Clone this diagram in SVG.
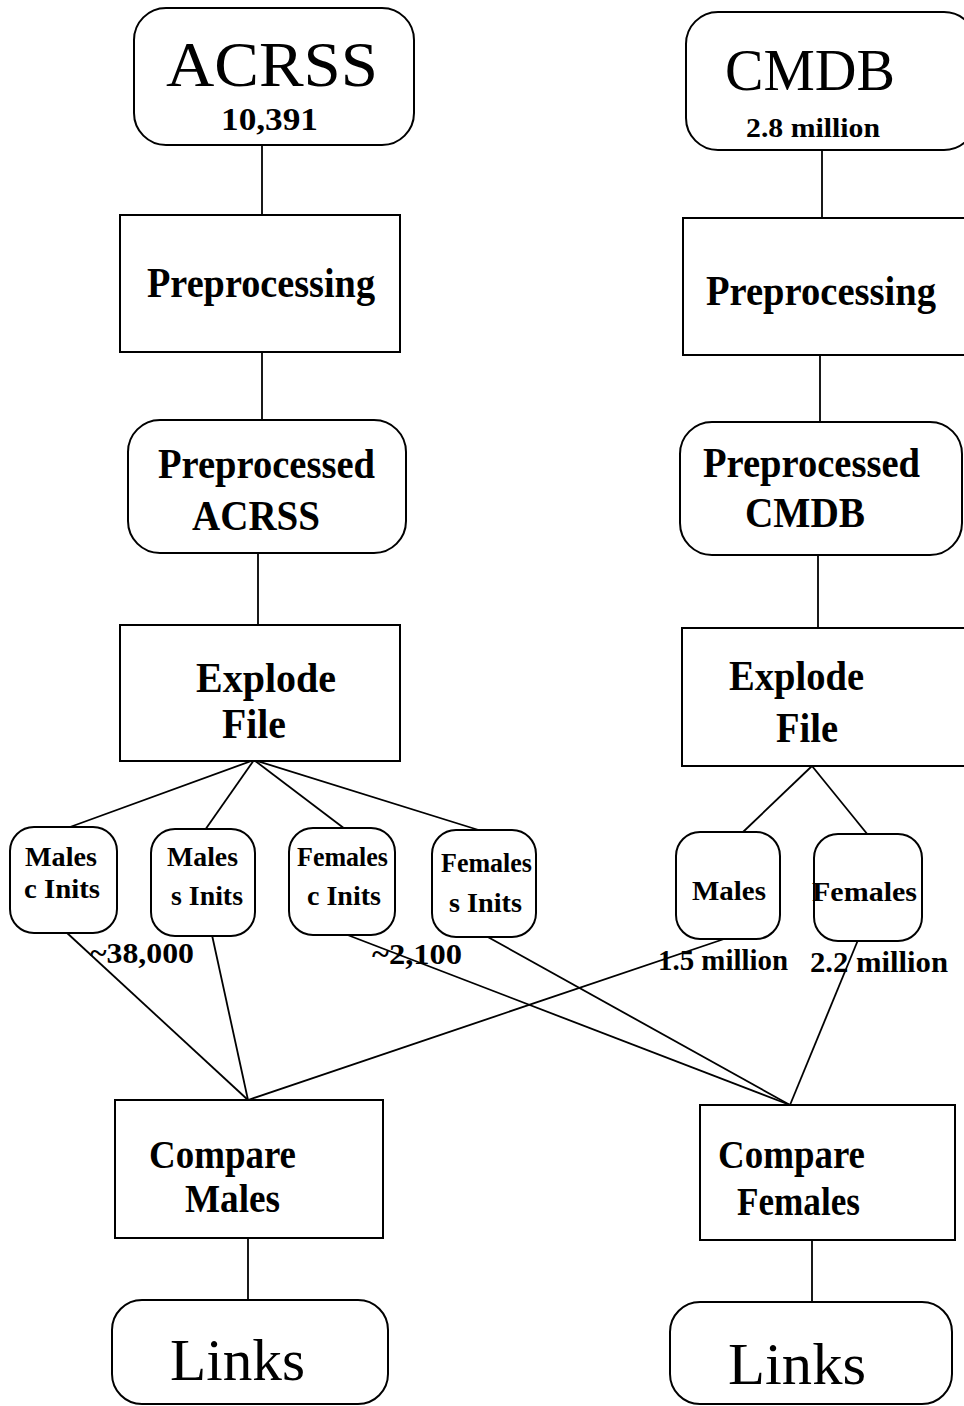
<svg xmlns="http://www.w3.org/2000/svg" width="964" height="1406" viewBox="0 0 964 1406">
<style>
.n{fill:#fff;stroke:#000;stroke-width:2}
.c line{stroke:#000;stroke-width:1.8}
text{font-family:"Liberation Serif","Times New Roman",serif;fill:#000}
.b{font-weight:bold}
</style>
<rect width="964" height="1406" fill="#fff"/>
<g class="c" id="connectors">
<line x1="262" y1="145" x2="262" y2="215"/>
<line x1="262" y1="352" x2="262" y2="420"/>
<line x1="258" y1="553" x2="258" y2="625"/>
<line x1="254" y1="760" x2="70" y2="827"/>
<line x1="254" y1="760" x2="205" y2="830"/>
<line x1="254" y1="760" x2="345" y2="829"/>
<line x1="254" y1="760" x2="485" y2="832"/>
<line x1="822" y1="150" x2="822" y2="218"/>
<line x1="820" y1="355" x2="820" y2="422"/>
<line x1="818" y1="555" x2="818" y2="628"/>
<line x1="812" y1="766" x2="743" y2="832"/>
<line x1="812" y1="766" x2="868" y2="835"/>
<line x1="66" y1="932" x2="248" y2="1100"/>
<line x1="212" y1="935" x2="248" y2="1100"/>
<line x1="730" y1="937" x2="248" y2="1100"/>
<line x1="345" y1="934" x2="790" y2="1105"/>
<line x1="486" y1="936" x2="790" y2="1105"/>
<line x1="858" y1="940" x2="790" y2="1105"/>
<line x1="248" y1="1238" x2="248" y2="1300"/>
<line x1="812" y1="1240" x2="812" y2="1302"/>
</g>
<g id="acrss"><rect class="n" x="134" y="8" width="280" height="137" rx="32"/>
<text x="166" y="86" font-size="64" textLength="212" lengthAdjust="spacingAndGlyphs">ACRSS</text>
<text class="b" x="221" y="130" font-size="32" textLength="97" lengthAdjust="spacingAndGlyphs">10,391</text></g>
<g id="prep1"><rect class="n" x="120" y="215" width="280" height="137"/>
<text class="b" x="147" y="297" font-size="42" textLength="228" lengthAdjust="spacingAndGlyphs">Preprocessing</text></g>
<g id="preped1"><rect class="n" x="128" y="420" width="278" height="133" rx="32"/>
<text class="b" x="158" y="478" font-size="42" textLength="217" lengthAdjust="spacingAndGlyphs">Preprocessed</text>
<text class="b" x="192" y="530" font-size="42" textLength="128" lengthAdjust="spacingAndGlyphs">ACRSS</text></g>
<g id="explode1"><rect class="n" x="120" y="625" width="280" height="136"/>
<text class="b" x="196" y="692" font-size="42" textLength="140" lengthAdjust="spacingAndGlyphs">Explode</text>
<text class="b" x="222" y="738" font-size="42" textLength="64" lengthAdjust="spacingAndGlyphs">File</text></g>
<g id="mci"><rect class="n" x="10" y="827" width="107" height="106" rx="24"/>
<text class="b" x="25" y="866" font-size="28" textLength="72" lengthAdjust="spacingAndGlyphs">Males</text>
<text class="b" x="24" y="898" font-size="28" textLength="76" lengthAdjust="spacingAndGlyphs">c Inits</text></g>
<g id="msi"><rect class="n" x="151" y="829" width="104" height="107" rx="24"/>
<text class="b" x="167" y="866" font-size="28" textLength="71" lengthAdjust="spacingAndGlyphs">Males</text>
<text class="b" x="171" y="905" font-size="28" textLength="72" lengthAdjust="spacingAndGlyphs">s Inits</text></g>
<g id="fci"><rect class="n" x="289" y="828" width="106" height="107" rx="24"/>
<text class="b" x="297" y="866" font-size="28" textLength="91" lengthAdjust="spacingAndGlyphs">Females</text>
<text class="b" x="307" y="905" font-size="28" textLength="74" lengthAdjust="spacingAndGlyphs">c Inits</text></g>
<g id="fsi"><rect class="n" x="432" y="830" width="104" height="107" rx="24"/>
<text class="b" x="441" y="872" font-size="28" textLength="91" lengthAdjust="spacingAndGlyphs">Females</text>
<text class="b" x="449" y="912" font-size="28" textLength="73" lengthAdjust="spacingAndGlyphs">s Inits</text></g>
<text class="b" x="90" y="963" font-size="30" textLength="104" lengthAdjust="spacingAndGlyphs">~38,000</text>
<text class="b" x="372" y="964" font-size="30" textLength="90" lengthAdjust="spacingAndGlyphs">~2,100</text>
<g id="cmdb"><rect class="n" x="686" y="12" width="290" height="138" rx="32"/>
<text x="725" y="90" font-size="60" textLength="170" lengthAdjust="spacingAndGlyphs">CMDB</text>
<text class="b" x="746" y="137" font-size="28" textLength="134" lengthAdjust="spacingAndGlyphs">2.8 million</text></g>
<g id="prep2"><rect class="n" x="683" y="218" width="290" height="137"/>
<text class="b" x="706" y="305" font-size="42" textLength="230" lengthAdjust="spacingAndGlyphs">Preprocessing</text></g>
<g id="preped2"><rect class="n" x="680" y="422" width="282" height="133" rx="32"/>
<text class="b" x="703" y="477" font-size="42" textLength="217" lengthAdjust="spacingAndGlyphs">Preprocessed</text>
<text class="b" x="745" y="527" font-size="42" textLength="120" lengthAdjust="spacingAndGlyphs">CMDB</text></g>
<g id="explode2"><rect class="n" x="682" y="628" width="290" height="138"/>
<text class="b" x="729" y="690" font-size="42" textLength="135" lengthAdjust="spacingAndGlyphs">Explode</text>
<text class="b" x="776" y="742" font-size="42" textLength="62" lengthAdjust="spacingAndGlyphs">File</text></g>
<g id="cm"><rect class="n" x="676" y="832" width="104" height="107" rx="24"/>
<text class="b" x="692" y="900" font-size="28" textLength="74" lengthAdjust="spacingAndGlyphs">Males</text></g>
<g id="cf"><rect class="n" x="814" y="834" width="108" height="107" rx="24"/>
<text class="b" x="812" y="901" font-size="28" textLength="105" lengthAdjust="spacingAndGlyphs">Females</text></g>
<text class="b" x="658" y="970" font-size="30" textLength="130" lengthAdjust="spacingAndGlyphs">1.5 million</text>
<text class="b" x="810" y="972" font-size="30" textLength="138" lengthAdjust="spacingAndGlyphs">2.2 million</text>
<g id="compm"><rect class="n" x="115" y="1100" width="268" height="138"/>
<text class="b" x="149" y="1168" font-size="40" textLength="147" lengthAdjust="spacingAndGlyphs">Compare</text>
<text class="b" x="185" y="1212" font-size="40" textLength="95" lengthAdjust="spacingAndGlyphs">Males</text></g>
<g id="compf"><rect class="n" x="700" y="1105" width="255" height="135"/>
<text class="b" x="718" y="1168" font-size="40" textLength="147" lengthAdjust="spacingAndGlyphs">Compare</text>
<text class="b" x="737" y="1215" font-size="40" textLength="123" lengthAdjust="spacingAndGlyphs">Females</text></g>
<g id="links1"><rect class="n" x="112" y="1300" width="276" height="104" rx="30"/>
<text x="170" y="1380" font-size="60" textLength="135" lengthAdjust="spacingAndGlyphs">Links</text></g>
<g id="links2"><rect class="n" x="670" y="1302" width="282" height="102" rx="30"/>
<text x="728" y="1384" font-size="60" textLength="138" lengthAdjust="spacingAndGlyphs">Links</text></g>
</svg>
